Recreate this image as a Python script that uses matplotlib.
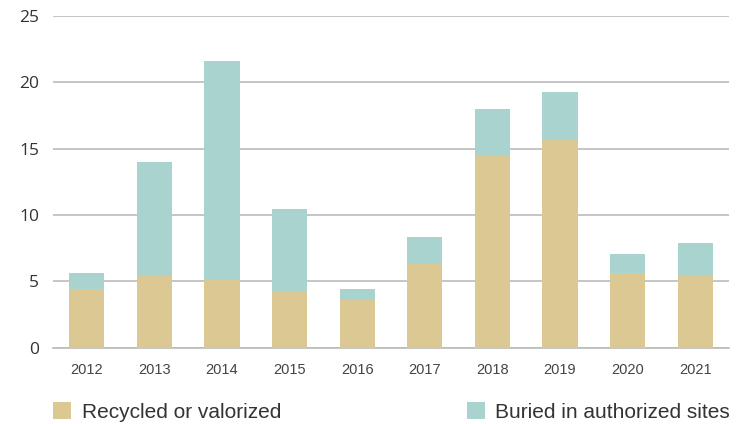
import matplotlib
matplotlib.use("Agg")
import matplotlib.pyplot as plt
import numpy as np

years = ["2012", "2013", "2014", "2015", "2016", "2017", "2018", "2019", "2020", "2021"]
recycled = [4.39, 5.42, 5.11, 4.26, 3.68, 6.32, 14.52, 15.72, 5.62, 5.42]
buried_total = [5.62, 13.99, 21.6, 10.45, 4.41, 8.33, 17.99, 19.27, 7.05, 7.88]
buried = [t - r for t, r in zip(buried_total, recycled)]
yticks = [0, 5, 10, 15, 20, 25]

plt.rcParams['font.family'] = ['Liberation Sans', 'DejaVu Sans']

fig = plt.figure(figsize=(7.38, 4.24), dpi=100)
ax = fig.add_axes([53/738, 1-347.5/424, (729-53)/738, (347.5-16)/424])

x = np.arange(len(years))
c_rec = "#DCC893"
c_bur = "#A9D3CE"
b1 = ax.bar(x, recycled, width=0.52, color=c_rec, zorder=3, label="Recycled or valorized")
b2 = ax.bar(x, buried, bottom=recycled, width=0.52, color=c_bur, zorder=3, label="Buried in authorized sites")

ax.set_xlim(-0.5, len(years)-0.5)
ax.set_ylim(0, 25)
ax.set_yticks(yticks)
ax.set_yticklabels([str(v) for v in yticks], fontsize=12.5, color="#333333", family=["Open Sans", "DejaVu Sans"])
ax.set_xticks(x)
ax.set_xticklabels(years, fontsize=10.5, color="#444444")
ax.tick_params(axis='both', length=0)
ax.tick_params(axis='y', pad=10)
ax.tick_params(axis='x', pad=11)
ax.yaxis.grid(True, color="#BBBBBB", linewidth=1.2, zorder=0)
for s in ["top", "right", "left"]:
    ax.spines[s].set_visible(False)
ax.spines["bottom"].set_color("#BBBBBB")
ax.spines["bottom"].set_linewidth(1.2)

common = dict(frameon=False, fontsize=15, handlelength=0.87, handleheight=0.87, handletextpad=0.5,
              borderaxespad=0, borderpad=0, labelcolor="#333333")
leg1 = fig.legend(handles=[b1], loc="lower left", bbox_to_anchor=(53/738, 2/424), **common)
leg2 = fig.legend(handles=[b2], loc="lower right", bbox_to_anchor=(730/738, 2/424), **common)

fig.savefig("out.png", dpi=100)
